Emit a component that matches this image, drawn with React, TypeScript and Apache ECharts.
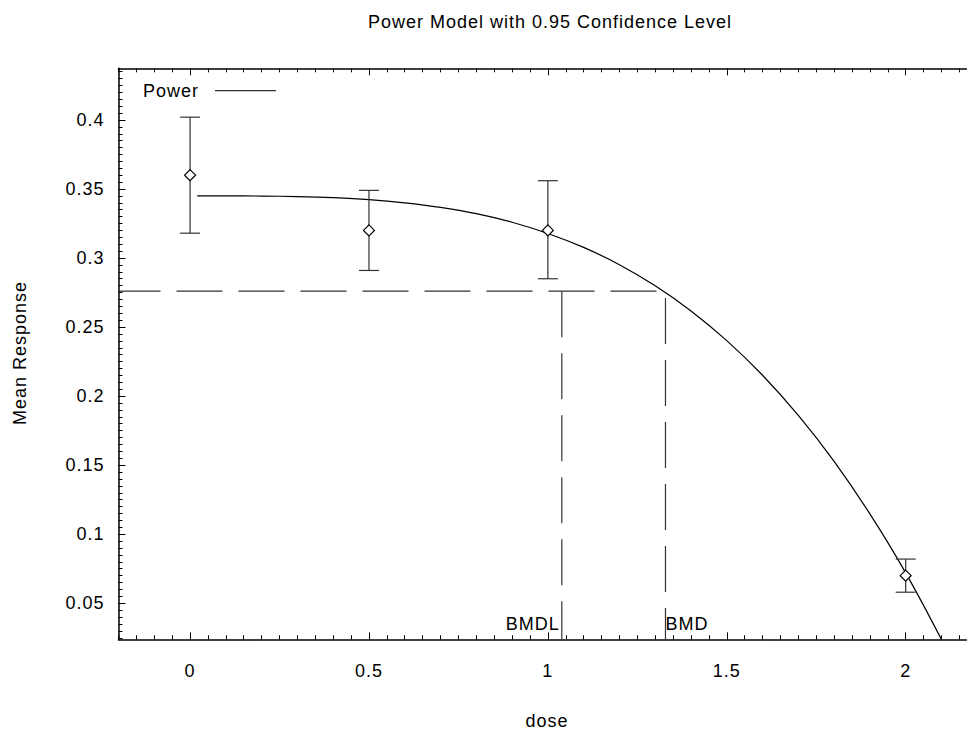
import React, { useEffect, useRef } from "react";
import * as echarts from "echarts";

// ---- data ----
const doses = [0, 0.5, 1, 2];
const means = [0.36, 0.32, 0.32, 0.07];
const lowerCI = [0.318, 0.291, 0.285, 0.058];
const upperCI = [0.402, 0.349, 0.356, 0.082];

// fitted power-model curve
const curveX = [0.02, 0.1, 0.2, 0.3, 0.4, 0.5, 0.6, 0.7, 0.8, 0.9, 1.0, 1.1, 1.2, 1.3, 1.4, 1.5, 1.6, 1.7, 1.8, 1.9, 2.0, 2.1];
const curveY = [0.345, 0.345, 0.3449, 0.3445, 0.3437, 0.3423, 0.34, 0.3367, 0.3321, 0.3259, 0.3178, 0.3077, 0.2952, 0.2799, 0.2617, 0.2402, 0.2151, 0.186, 0.1527, 0.1147, 0.072, 0.0237];

const BMR = 0.276;
const BMD = 1.3287;
const BMDL = 1.039;

const xTicks = [0, 0.5, 1, 1.5, 2];
const yTicks = [0.05, 0.1, 0.15, 0.2, 0.25, 0.3, 0.35, 0.4];

const X_MIN = -0.2;
const X_MAX = 2.17;
const Y_MIN = 0.0239;
const Y_MAX = 0.4374;

const xMinor: number[] = [];
for (let i = -4; i <= 43; i++) xMinor.push(Math.round(i * 5) / 100);
const yMinor: number[] = [];
for (let i = 5; i <= 87; i++) yMinor.push(Math.round(i * 5) / 1000);

const FONT = "'Liberation Sans', Arial, Helvetica, sans-serif";
const textBase = { fontFamily: FONT, fontSize: 18, color: "#000" };

export default function App() {
  const ref = useRef<HTMLDivElement>(null);
  useEffect(() => {
    if (!ref.current) return;
    const chart = echarts.init(ref.current, null, { renderer: "svg" });
    const axisLine = { show: true, onZero: false, lineStyle: { color: "#000", width: 1.5 } };
    const tickStyle = { color: "#000", width: 1 };
    const xc = { type: "value", min: X_MIN, max: X_MAX, splitLine: { show: false } };
    const yc = { type: "value", min: Y_MIN, max: Y_MAX, splitLine: { show: false } };
    const option: any = {
      animation: false,
      backgroundColor: "#fff",
      grid: { left: 118.5, top: 68.3, width: 848, height: 571, containLabel: false },
      xAxis: [
        {
          ...xc,
          position: "bottom",
          axisLine,
          axisTick: { show: true, inside: true, length: 7, customValues: xTicks, lineStyle: tickStyle },
          axisLabel: { show: true, customValues: xTicks, margin: 23, ...textBase, formatter: (v: number) => String(v) },
        },
        {
          ...xc,
          position: "bottom",
          axisLine: { show: false, onZero: false },
          axisTick: { show: true, inside: true, length: 4, customValues: xMinor, lineStyle: tickStyle },
          axisLabel: { show: false },
        },
        {
          ...xc,
          position: "top",
          axisLine,
          axisTick: { show: true, inside: true, length: 7, customValues: xTicks, lineStyle: tickStyle },
          axisLabel: { show: false },
        },
        {
          ...xc,
          position: "top",
          axisLine: { show: false, onZero: false },
          axisTick: { show: true, inside: true, length: 4, customValues: xMinor, lineStyle: tickStyle },
          axisLabel: { show: false },
        },
      ],
      yAxis: [
        {
          ...yc,
          position: "left",
          axisLine,
          axisTick: { show: true, inside: true, length: 7, customValues: yTicks, lineStyle: tickStyle },
          axisLabel: { show: true, customValues: yTicks, margin: 14, ...textBase, formatter: (v: number) => String(v) },
        },
        {
          ...yc,
          position: "left",
          axisLine: { show: false, onZero: false },
          axisTick: { show: true, inside: true, length: 4, customValues: yMinor, lineStyle: tickStyle },
          axisLabel: { show: false },
        },
      ],
      graphic: [
        {
          type: "text",
          x: 550,
          y: 22,
          style: { text: "Power Model with 0.95 Confidence Level", font: `18px ${FONT}`, fill: "#000", align: "center", verticalAlign: "middle" },
        },
        {
          type: "text",
          x: 20,
          y: 353,
          rotation: Math.PI / 2,
          style: { text: "Mean Response", font: `18px ${FONT}`, fill: "#000", align: "center", verticalAlign: "middle" },
        },
        {
          type: "text",
          x: 547,
          y: 721,
          style: { text: "dose", font: `18px ${FONT}`, fill: "#000", align: "center", verticalAlign: "middle" },
        },
        {
          type: "text",
          x: 143,
          y: 91,
          style: { text: "Power", font: `18px ${FONT}`, fill: "#000", align: "left", verticalAlign: "middle" },
        },
        {
          type: "line",
          shape: { x1: 215, y1: 90.7, x2: 276, y2: 90.7 },
          style: { stroke: "#000", lineWidth: 1 },
        },
      ],
      series: [
        {
          name: "Power",
          type: "line",
          data: curveX.map((x, i) => [x, curveY[i]]),
          showSymbol: false,
          symbol: "none",
          smooth: 0.4,
          lineStyle: { color: "#000", width: 1.2 },
          z: 3,
        },
        {
          type: "line",
          data: [[X_MIN, BMR], [BMD, BMR]],
          symbol: "none",
          lineStyle: { color: "#333", width: 1.2, type: [46, 16], dashOffset: 4 },
          z: 2,
        },
        {
          type: "line",
          data: [[BMDL, BMR], [BMDL, Y_MIN]],
          symbol: "none",
          lineStyle: { color: "#333", width: 1.2, type: [46, 16] },
          z: 2,
        },
        {
          type: "line",
          data: [[BMD, BMR - 0.005], [BMD, Y_MIN]],
          symbol: "none",
          lineStyle: { color: "#333", width: 1.2, type: [46, 16] },
          z: 2,
        },
        {
          type: "custom",
          data: doses.map((d, i) => [d, lowerCI[i], upperCI[i]]),
          encode: { x: 0, y: [1, 2] },
          renderItem: (params: any, api: any) => {
            const x = api.value(0);
            const lo = api.coord([x, api.value(1)]);
            const hi = api.coord([x, api.value(2)]);
            const hw = 10;
            const style = { stroke: "#333", lineWidth: 1.2 };
            return {
              type: "group",
              children: [
                { type: "line", shape: { x1: lo[0], y1: lo[1], x2: hi[0], y2: hi[1] }, style },
                { type: "line", shape: { x1: lo[0] - hw, y1: lo[1], x2: lo[0] + hw, y2: lo[1] }, style },
                { type: "line", shape: { x1: hi[0] - hw, y1: hi[1], x2: hi[0] + hw, y2: hi[1] }, style },
              ],
            };
          },
          z: 4,
        },
        {
          type: "scatter",
          data: doses.map((d, i) => [d, means[i]]),
          symbol: "diamond",
          symbolSize: 11,
          itemStyle: { color: "#fff", borderColor: "#000", borderWidth: 1.2, opacity: 1 },
          z: 5,
        },
        {
          type: "scatter",
          data: [[BMDL, Y_MIN]],
          symbolSize: 0,
          itemStyle: { color: "#000", opacity: 1 },
          label: { show: true, formatter: "BMDL", position: "left", distance: 2, offset: [0, -15.6], ...textBase, opacity: 1 },
          z: 6,
        },
        {
          type: "scatter",
          data: [[BMD, Y_MIN]],
          symbolSize: 0,
          itemStyle: { color: "#000", opacity: 1 },
          label: { show: true, formatter: "BMD", position: "right", distance: 0, offset: [0, -15.6], ...textBase, opacity: 1 },
          z: 6,
        },
      ],
    };
    chart.setOption(option);
    return () => chart.dispose();
  }, []);
  return (
    <div
      ref={ref}
      style={{ position: "fixed", left: 0, top: 0, width: 967, height: 730, letterSpacing: "1px", background: "#fff" }}
    />
  );
}
